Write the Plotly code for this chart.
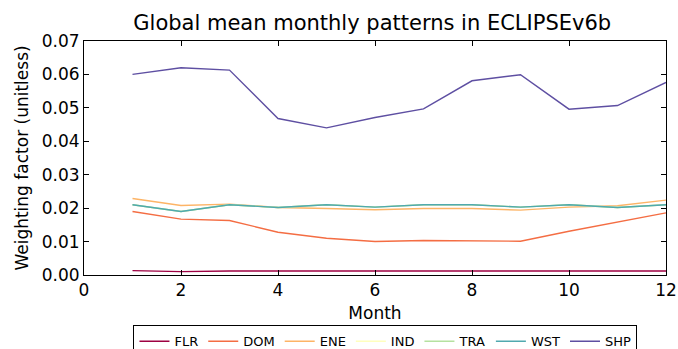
import plotly.graph_objects as go

months = list(range(1, 13))
FLR = [0.0013, 0.0010, 0.0012, 0.0012, 0.0012, 0.0012, 0.0012, 0.0012, 0.0012, 0.0012, 0.0012, 0.0012]
DOM = [0.0190, 0.0167, 0.0163, 0.0128, 0.0110, 0.0100, 0.0103, 0.0101, 0.0101, 0.0131, 0.0158, 0.0186]
ENE = [0.0229, 0.0208, 0.0212, 0.0202, 0.0199, 0.0195, 0.0199, 0.0199, 0.0194, 0.0203, 0.0207, 0.0224]
IND = [0.0210, 0.0190, 0.0210, 0.0202, 0.0210, 0.0203, 0.0210, 0.0210, 0.0203, 0.0210, 0.0202, 0.0210]
TRA = [0.0210, 0.0190, 0.0210, 0.0202, 0.0210, 0.0203, 0.0210, 0.0210, 0.0203, 0.0210, 0.0202, 0.0210]
WST = [0.0210, 0.0190, 0.0210, 0.0202, 0.0210, 0.0203, 0.0210, 0.0210, 0.0203, 0.0210, 0.0202, 0.0210]
SHP = [0.0600, 0.0620, 0.0613, 0.0468, 0.0440, 0.0471, 0.0497, 0.0581, 0.0599, 0.0496, 0.0507, 0.0576]

series = [("FLR", FLR), ("DOM", DOM), ("ENE", ENE), ("IND", IND), ("TRA", TRA), ("WST", WST), ("SHP", SHP)]
colors = ["#9e0142", "#f46d43", "#fdb466", "#ffffbe", "#b5e1a0", "#50a9af", "#5e4fa2"]

x_ticks = [0, 2, 4, 6, 8, 10, 12]
y_ticks = [0.00, 0.01, 0.02, 0.03, 0.04, 0.05, 0.06, 0.07]

fig = go.Figure()
for (name, vals), c in zip(series, colors):
    fig.add_trace(go.Scatter(x=months, y=vals, mode="lines", name=name,
                             line=dict(color=c, width=1.4)))

font = "DejaVu Sans, sans-serif"
fig.update_layout(
    width=678, height=349,
    margin=dict(l=84, r=12, t=41, b=74, autoexpand=False),
    paper_bgcolor="white", plot_bgcolor="white",
    font=dict(family=font, size=17, color="black"),
    title=dict(text="Global mean monthly patterns in ECLIPSEv6b", x=0.549, xanchor="center",
               y=0.935, yanchor="middle", font=dict(size=21)),
    showlegend=True,
    legend=dict(orientation="h", x=0.518, xanchor="center", y=-0.215, yanchor="top",
                bordercolor="black", borderwidth=1, font=dict(size=13),
                itemwidth=30, tracegroupgap=0),
)
fig.update_xaxes(range=[0, 12], tickvals=x_ticks, ticktext=[str(v) for v in x_ticks],
                 ticks="inside", ticklen=5, tickcolor="black", showline=True, linecolor="black",
                 linewidth=1, mirror="ticks", showgrid=False, zeroline=False, automargin=False,
                 title=dict(text="Month", standoff=7, font=dict(size=17)))
fig.update_yaxes(range=[0, 0.07], tickvals=y_ticks, ticktext=["%.2f" % v for v in y_ticks],
                 ticks="inside", ticklen=5, tickcolor="black", showline=True, linecolor="black",
                 linewidth=1, mirror="ticks", showgrid=False, zeroline=False, automargin=False,
                 title=dict(text="Weighting factor (unitless)", standoff=8, font=dict(size=17)))
fig.write_html("out.html", config={"displayModeBar": False},
               post_script="document.body.style.margin='0';document.body.style.overflow='hidden';")
